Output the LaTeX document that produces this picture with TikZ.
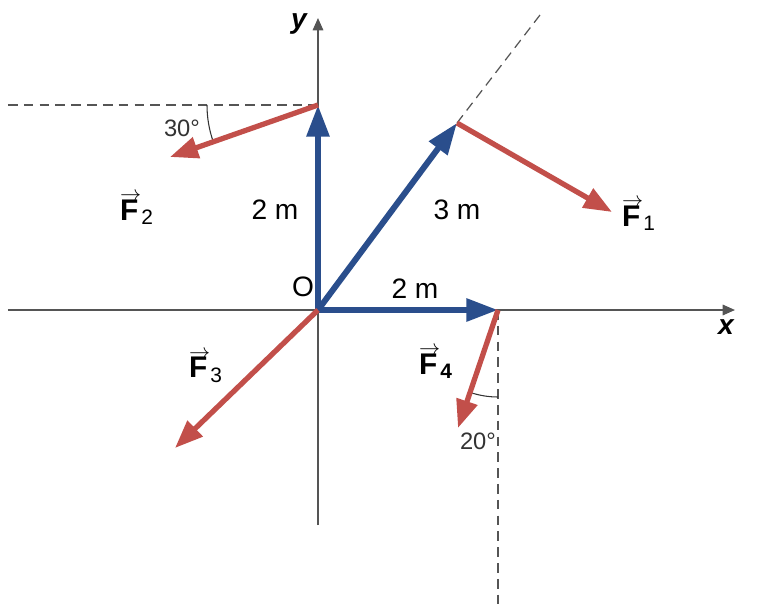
\documentclass[tikz,border=0pt]{standalone}
\usepackage{amsmath}
\usepackage{fontspec}
\setmainfont{Liberation Sans}
\usepackage{xcolor}
\usetikzlibrary{arrows.meta, positioning, calc}

\definecolor{armblue}{HTML}{2A4E8C}
\definecolor{forcered}{HTML}{C24F4A}
\definecolor{axisgray}{HTML}{555555}
\newcommand{\vecF}{\ooalign{\textbf{F}\cr\hfil\raisebox{0.64em}{$\scriptstyle\rightarrow$}\hfil\cr}}
\newcommand{\forcelbl}[2]{\vecF$_{#1{#2}}$}

\begin{document}
\begin{tikzpicture}[font=\fontsize{16}{18}\selectfont,
  axisline/.style={draw=axisgray, line width=0.85pt, -{Triangle[length=7pt, width=6pt]}},
  armvec/.style={draw=armblue, line width=3.4pt, -{Triangle[length=18pt, width=12.5pt]}},
  forcevec/.style={draw=forcered, line width=3pt, -{Triangle[length=16pt, width=12pt]}},
  guide/.style={draw=axisgray, line width=0.7pt, dash pattern=on 5.5pt off 3.5pt},
  anglearc/.style={draw=black!80, line width=0.6pt},
  anglelbl/.style={font=\fontsize{13.5}{15}\selectfont, text=black!80, inner sep=1pt},
  forcelabel/.style={font=\fontsize{17}{19}\selectfont, inner sep=1pt}
]
  \useasboundingbox (-6.36,-6.0) rectangle (8.84,6.2);

  % Points
  \coordinate (O) at (0,0);
  \coordinate (A) at (0,4.1);
  \coordinate (B) at (2.78,3.74);
  \coordinate (C) at (3.6,0);
  \coordinate (xl) at (-6.2,0);
  \coordinate (xr) at (8.34,0);
  \coordinate (yb) at (0,-4.3);
  \coordinate (yt) at (0,5.84);
  \coordinate (F1end) at (5.88,1.96);
  \coordinate (F2end) at (-2.96,3.06);
  \coordinate (F3end) at (-2.86,-2.76);
  \coordinate (F4end) at (2.8,-2.36);
  \coordinate (dashA) at (-6.2,4.1);
  \coordinate (dashB) at (4.44,5.9);
  \coordinate (dashC) at (3.6,-5.9);

  % Axes
  \draw[axisline] (xl) -- (xr);
  \draw[axisline] (yb) -- (yt);
  \node[font=\fontsize{16}{18}\selectfont\bfseries\itshape] (xlbl) at (8.16,-0.34) {x};
  \node[font=\fontsize{16}{18}\selectfont\bfseries\itshape] (ylbl) at (-0.38,5.72) {y};
  \node (olbl) at (-0.3,0.46) {O};

  % Dashed guides
  \draw[guide] (dashA) -- (A);
  \draw[guide] (B) -- (dashB);
  \draw[guide] (C) -- (dashC);

  % Angle marks
  \draw[anglearc] ($(A)+(180:2.22)$) arc[start angle=180, end angle=199.4, radius=2.22];
  \node[anglelbl] (ang2) at (-2.72,3.64) {30°};
  \draw[anglearc] ($(C)+(270:1.74)$) arc[start angle=270, end angle=251.3, radius=1.74];
  \node[anglelbl] (ang4) at (3.2,-2.62) {20°};

  % Lever arms
  \foreach \p in {A, B, C} {
    \draw[armvec] (O) -- (\p);
  }
  \node (armA) at (-0.86,2.0) {2 m};
  \node (armB) at (2.78,2.0) {3 m};
  \node (armC) at (1.94,0.42) {2 m};

  % Forces
  \draw[forcevec] (B) -- (F1end);
  \draw[forcevec] (A) -- (F2end);
  \draw[forcevec] (O) -- (F3end);
  \draw[forcevec] (C) -- (F4end);
  \node[forcelabel] (f1lbl) at (6.42,1.84) {\forcelbl{\textrm}{1}};
  \node[forcelabel] (f2lbl) at (-3.62,1.96) {\forcelbl{\textrm}{2}};
  \node[forcelabel] (f3lbl) at (-2.24,-1.2) {\forcelbl{\textrm}{3}};
  \node[forcelabel] (f4lbl) at (2.36,-1.12) {\forcelbl{\textbf}{4}};
\end{tikzpicture}
\end{document}
